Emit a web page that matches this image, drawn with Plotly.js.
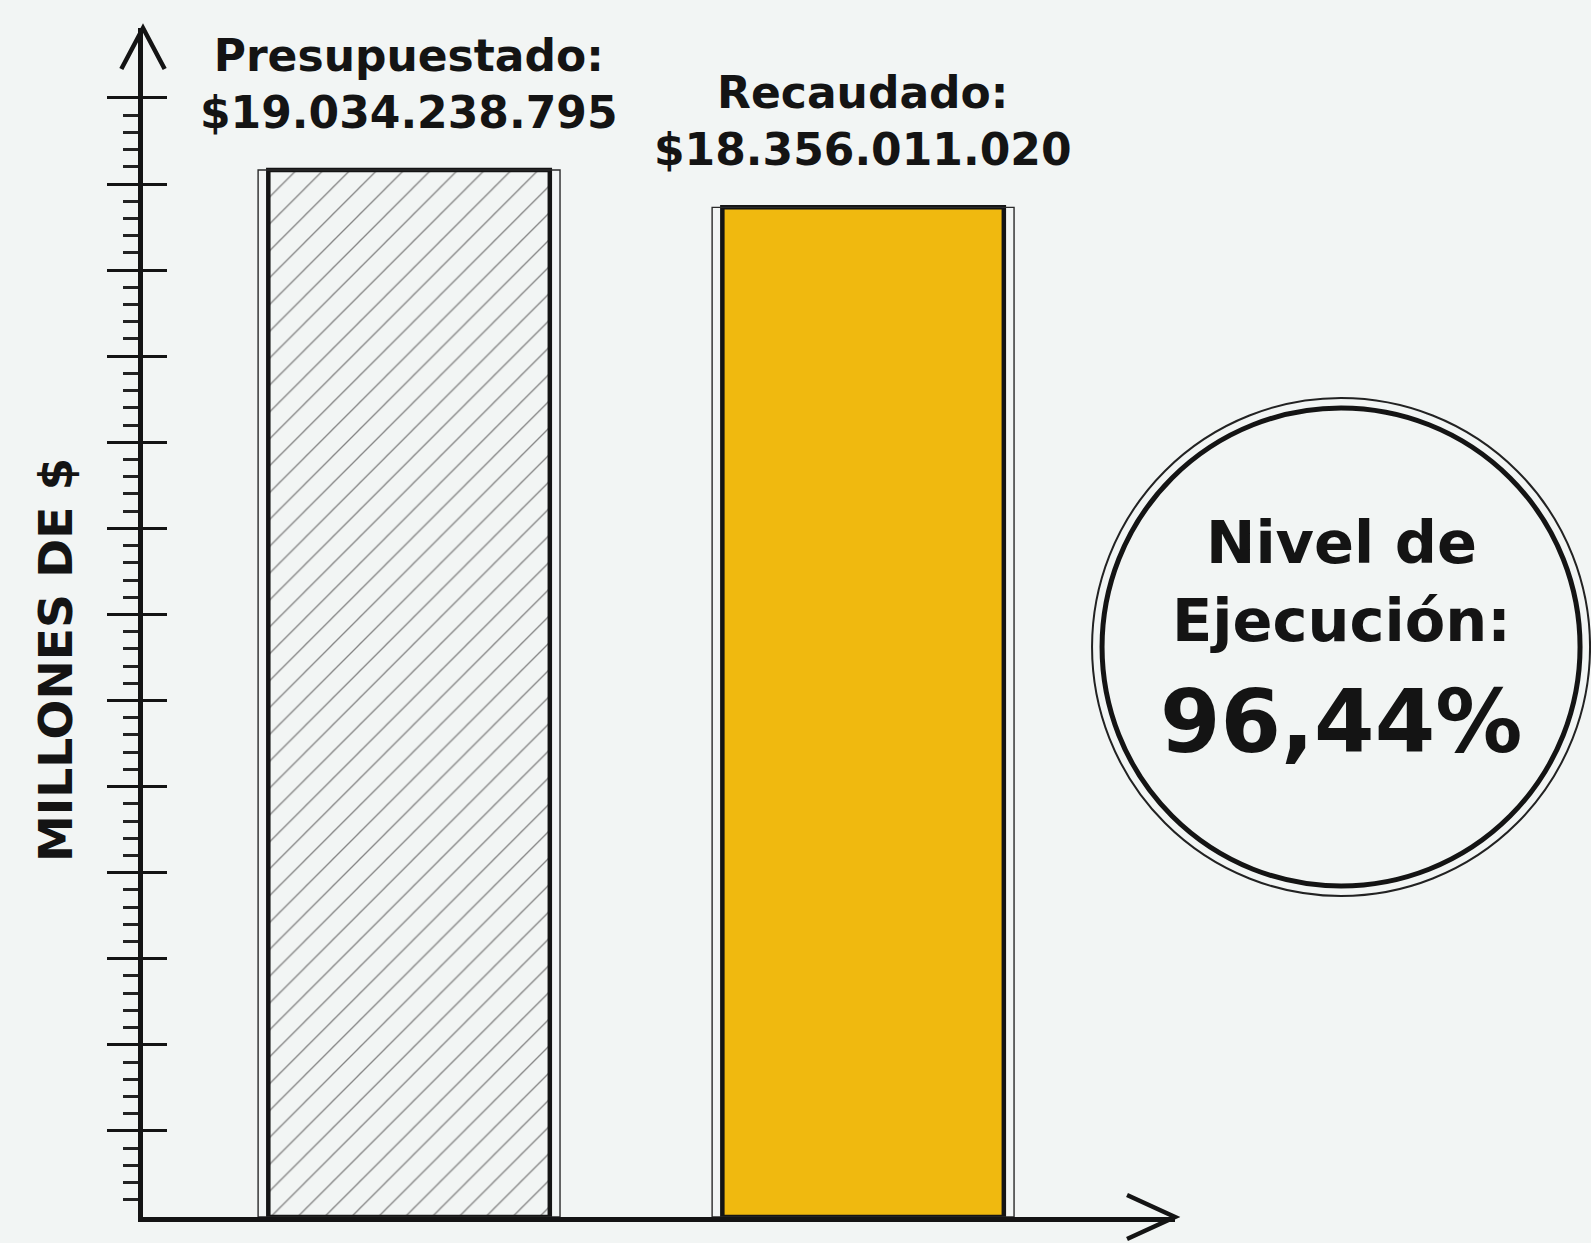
<!DOCTYPE html>
<html>
<head>
<meta charset="utf-8">
<script src="https://cdn.plot.ly/plotly-3.0.1.min.js"></script>
<style>html,body{margin:0;padding:0;background:#F2F5F4;}</style>
</head>
<body>
<div id="chart" style="width:1591px;height:1243px;"></div>
<script>
// ---- data ----
const categories = ["Presupuestado", "Recaudado"];
const valuesMillions = [19034.238795, 18356.011020];
const valueLabels = ["$19.034.238.795", "$18.356.011.020"];
const yTitle = "MILLONES DE $";
const executionLabel = ["Nivel de", "Ejecución:"];
const tickStep = 1565;
const majorTickCount = 13;
const minorPerMajor = 5;

// ---- derived ----
const execPct = valuesMillions[1] / valuesMillions[0] * 100;
const execText = execPct.toFixed(2).replace(".", ",") + "%";
const majorTicks = [];
for (let i = 1; i <= majorTickCount; i++) majorTicks.push(i * tickStep);
const minorTicks = [];
for (let i = 0; i < majorTickCount; i++) {
  for (let j = 1; j < minorPerMajor; j++) minorTicks.push(i * tickStep + j * tickStep / minorPerMajor);
}

const FONT = "'DejaVu Sans', 'Open Sans', sans-serif";
const INK = "#141414";
const BG = "#F2F5F4";
const yRange = [0, 21617];
const xRange = [-0.586, 1.687];

const traces = [
  {
    type: "bar", name: categories[0], x: [categories[0]], y: [valuesMillions[0]], width: 0.62,
    marker: {
      color: "#858585",
      pattern: {shape: "/", fgcolor: "#858585", bgcolor: BG, size: 19, solidity: 0.07, fillmode: "replace"},
      line: {color: INK, width: 4.5}
    },
    hoverinfo: "x+y", showlegend: false
  },
  {
    type: "bar", name: categories[1], x: [categories[1]], y: [valuesMillions[1]], width: 0.62,
    marker: {color: "#F0B90F", line: {color: INK, width: 4.5}},
    hoverinfo: "x+y", showlegend: false
  },
  {
    type: "bar", x: categories, y: valuesMillions, width: 0.665,
    marker: {color: "rgba(0,0,0,0)", line: {color: "#2a2a2a", width: 1.4}},
    hoverinfo: "skip", showlegend: false
  },
  {type: "scatter", x: [], y: [], yaxis: "y2", showlegend: false, hoverinfo: "skip"}
];

const annotations = categories.map((c, i) => ({
  x: c, y: valuesMillions[i], xref: "x", yref: "y",
  xanchor: "center", yanchor: "bottom", yshift: 30,
  text: "<b>" + c + ":</b><br><b>" + valueLabels[i] + "</b>",
  showarrow: false, align: "center",
  font: {family: FONT, size: 44, color: INK}
}));

// y-axis title (placed as rotated annotation to match the original's vertical position)
annotations.push({
  xref: "paper", yref: "paper", x: 0, y: 0.4685, xanchor: "center", yanchor: "middle",
  xshift: -87, textangle: -90, showarrow: false,
  text: "<b>" + yTitle + "</b>", font: {family: FONT, size: 47, color: INK}
});

const cx = 1.1609, cy = 0.4794;
annotations.push(
  {xref: "paper", yref: "paper", x: cx, y: 0.5669, xanchor: "center", yanchor: "middle",
   text: "<b>" + executionLabel[0] + "</b>", showarrow: false, font: {family: FONT, size: 59, color: INK}},
  {xref: "paper", yref: "paper", x: cx, y: 0.5013, xanchor: "center", yanchor: "middle",
   text: "<b>" + executionLabel[1] + "</b>", showarrow: false, font: {family: FONT, size: 59, color: INK}},
  {xref: "paper", yref: "paper", x: cx, y: 0.4163, xanchor: "center", yanchor: "middle",
   text: "<b>" + execText + "</b>", showarrow: false, font: {family: FONT, size: 87, color: INK}}
);

const shapes = [
  {type: "circle", xref: "paper", yref: "paper", xsizemode: "pixel", ysizemode: "pixel",
   xanchor: cx, yanchor: cy, x0: -249, x1: 249, y0: -249, y1: 249,
   line: {color: "#222", width: 2}},
  {type: "circle", xref: "paper", yref: "paper", xsizemode: "pixel", ysizemode: "pixel",
   xanchor: cx, yanchor: cy, x0: -239, x1: 239, y0: -239, y1: 239,
   line: {color: INK, width: 5}},
  // y axis arrow head
  {type: "path", xref: "paper", yref: "paper",
   path: "M -0.021 0.9655 L 0 1 L 0.021 0.9655", line: {color: INK, width: 4.5}},
  // x axis arrow head
  {type: "path", xref: "paper", yref: "paper",
   path: "M 0.9535 0.0185 L 1 0 L 0.9535 -0.0185", line: {color: INK, width: 4.5}}
];

const layout = {
  width: 1591, height: 1243,
  margin: {l: 143, r: 416, t: 28, b: 26},
  paper_bgcolor: BG, plot_bgcolor: BG,
  barmode: "overlay",
  showlegend: false,
  xaxis: {
    type: "category", range: xRange, showline: true, linecolor: INK, linewidth: 5,
    showticklabels: false, ticks: "", showgrid: false, zeroline: false, fixedrange: true
  },
  yaxis: {
    range: yRange, showline: true, linecolor: INK, linewidth: 5,
    showgrid: false, zeroline: false, showticklabels: false,
    tickmode: "array", tickvals: majorTicks, ticks: "outside", ticklen: 31, tickwidth: 3, tickcolor: INK,
    minor: {tickmode: "array", tickvals: minorTicks, ticks: "outside", ticklen: 15, tickwidth: 3, tickcolor: "#222", showgrid: false}
  },
  yaxis2: {
    overlaying: "y", range: yRange, showline: false, showgrid: false, zeroline: false,
    showticklabels: false, tickmode: "array", tickvals: majorTicks,
    ticks: "inside", ticklen: 24, tickwidth: 3, tickcolor: INK
  },
  annotations: annotations,
  shapes: shapes
};

Plotly.newPlot("chart", traces, layout, {displayModeBar: false, staticPlot: true});
</script>
</body>
</html>
